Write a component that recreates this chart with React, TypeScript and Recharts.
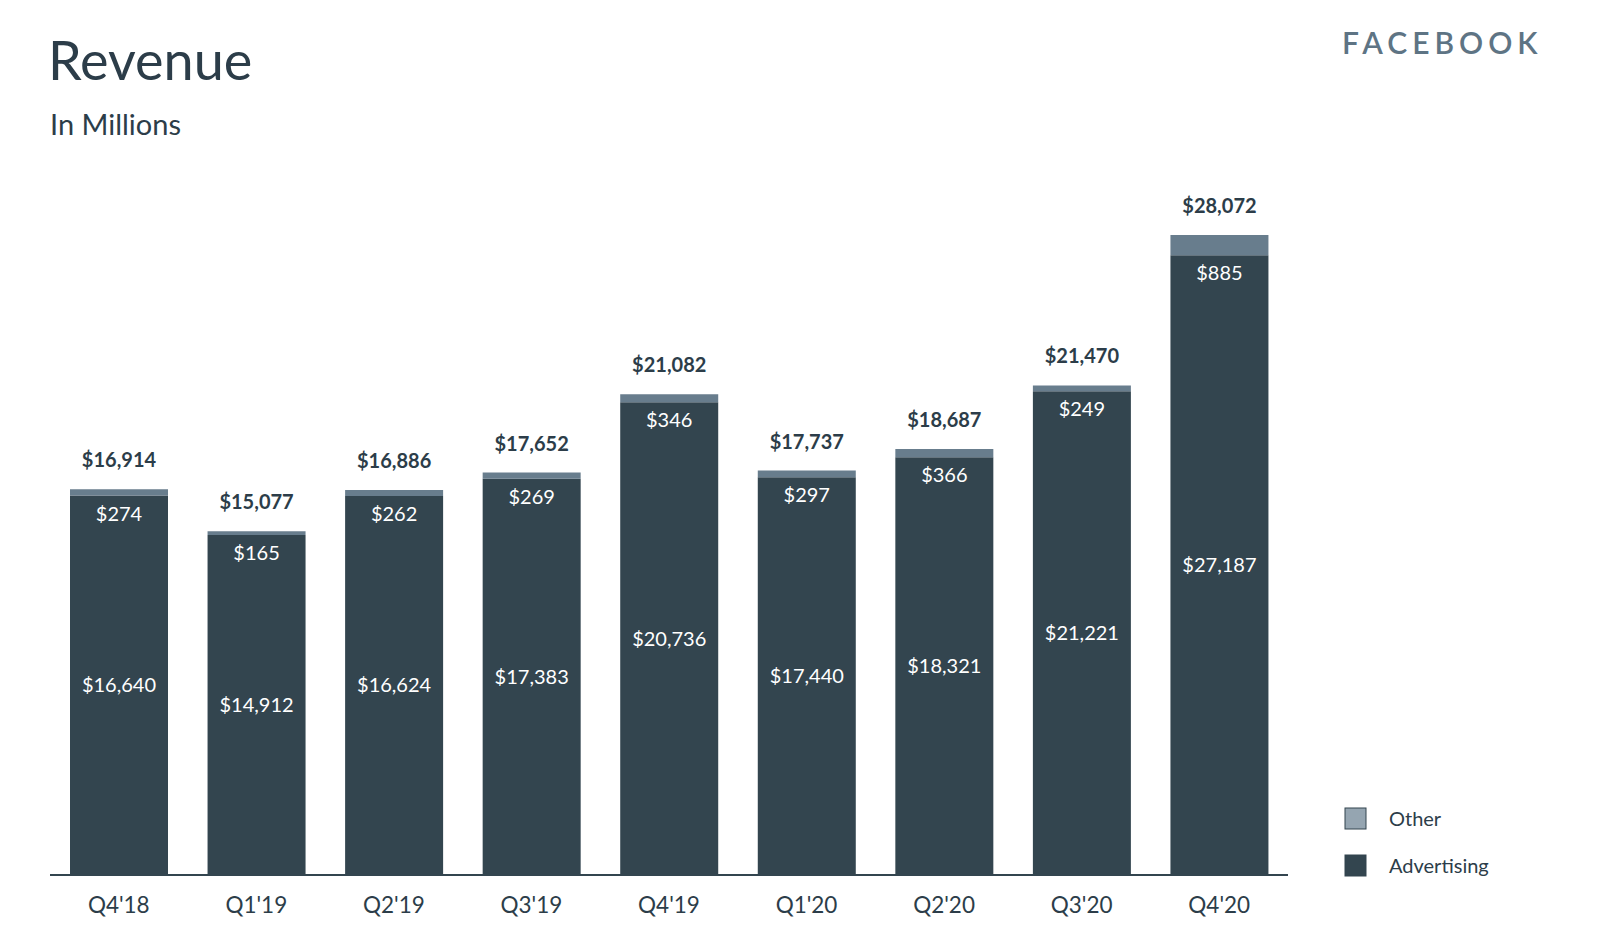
import React from 'react';
import { BarChart, Bar, XAxis, YAxis, LabelList } from 'recharts';

const quarters = ["Q4'18", "Q1'19", "Q2'19", "Q3'19", "Q4'19", "Q1'20", "Q2'20", "Q3'20", "Q4'20"];
const advertising = [16640, 14912, 16624, 17383, 20736, 17440, 18321, 21221, 27187];
const other = [274, 165, 262, 269, 346, 297, 366, 249, 885];
const totals = [16914, 15077, 16886, 17652, 21082, 17737, 18687, 21470, 28072];

const data = quarters.map((q, i) => ({
    quarter: q,
    advertising: advertising[i],
    other: other[i],
    total: totals[i],
}));

const FONT = 'Lato, "Open Sans", sans-serif';
const DARK = '#33454f';
const OTHER_BAR = '#687d8d';
const TEXT = '#2c3d49';

const fmt = (v: number) => '$' + v.toLocaleString('en-US');

// total above the bar + "other" value just inside the advertising part
const OtherLabels = (props: any) => {
    const { x, y, width, height, index } = props;
    const cx = x + width / 2;
    return (
        <g>
            <text x={cx} y={y - 22} textAnchor="middle" fill={TEXT} fontSize={20} fontWeight={700} fontFamily={FONT}>
                {fmt(totals[index])}
            </text>
            <text x={cx} y={y + height + 25} textAnchor="middle" fill="#ffffff" fontSize={20} fontFamily={FONT}>
                {fmt(other[index])}
            </text>
        </g>
    );
};

const AdLabel = (props: any) => {
    const { x, y, width, height, index } = props;
    return (
        <text x={x + width / 2} y={y + height / 2 + 7} textAnchor="middle" fill="#ffffff" fontSize={20} fontFamily={FONT}>
            {fmt(advertising[index])}
        </text>
    );
};

const App = () => {
    return (
        <div style={{ position: 'absolute', left: 0, top: 0, width: 1600, height: 948, background: '#fff' }}>
            <BarChart
                width={1600}
                height={948}
                data={data}
                margin={{ top: 191, right: 312, left: 50, bottom: 43 }}
                barSize={98}
            >
                <XAxis
                    dataKey="quarter"
                    height={30}
                    axisLine={{ stroke: DARK, strokeWidth: 2 }}
                    tickLine={false}
                    tick={{ fill: TEXT, fontSize: 22.5, fontFamily: FONT }}
                    dy={14}
                />
                <YAxis hide domain={[0, 30000]} />
                <Bar dataKey="advertising" stackId="a" fill={DARK} isAnimationActive={false}>
                    <LabelList dataKey="advertising" content={AdLabel} />
                </Bar>
                <Bar dataKey="other" stackId="a" fill={OTHER_BAR} isAnimationActive={false}>
                    <LabelList dataKey="other" content={OtherLabels} />
                </Bar>
            </BarChart>
            <svg width={1600} height={948} style={{ position: 'absolute', left: 0, top: 0, pointerEvents: 'none' }}>
                <text x={48} y={80} fill={TEXT} fontSize={54} fontFamily={FONT}>Revenue</text>
                <text x={50} y={135} fill={TEXT} fontSize={29} fontFamily={FONT}>In Millions</text>
                <text x={1342} y={54} fill="#5e7484" fontSize={30} fontWeight={600} fontFamily={FONT} letterSpacing={5}>FACEBOOK</text>
                <rect x={1345} y={808} width={21} height={21} fill="#95a5b1" stroke={DARK} strokeWidth={1} />
                <text x={1389} y={826} fill={TEXT} fontSize={20} fontFamily={FONT}>Other</text>
                <rect x={1345} y={855} width={21} height={21} fill={DARK} stroke={DARK} strokeWidth={1} />
                <text x={1389} y={873} fill={TEXT} fontSize={20} fontFamily={FONT}>Advertising</text>
            </svg>
        </div>
    );
};

export default App;
